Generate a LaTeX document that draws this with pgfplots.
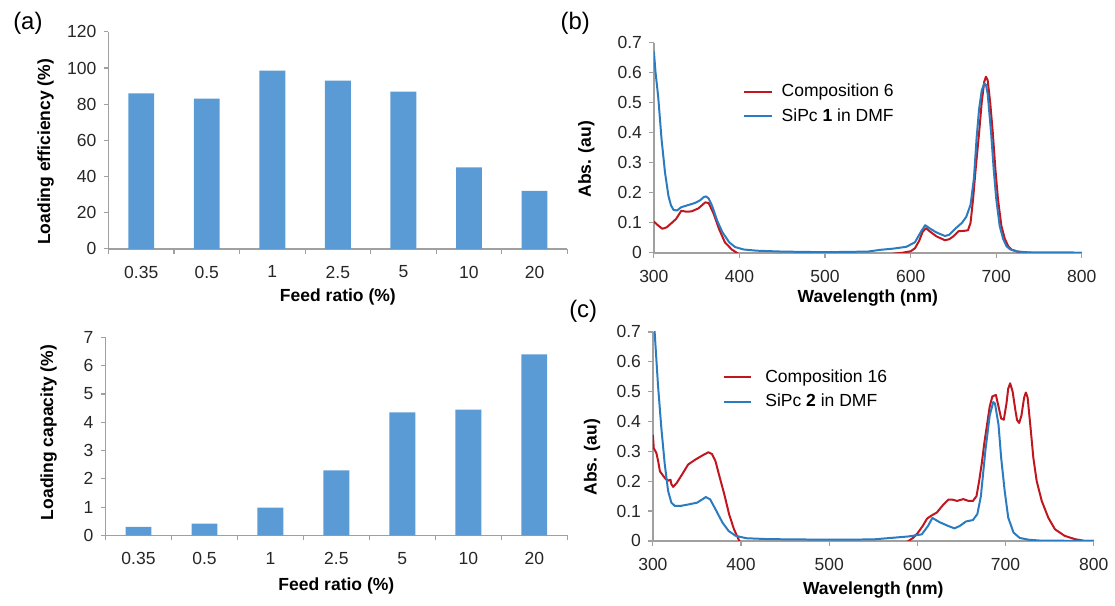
\documentclass[border=0pt]{standalone}
\usepackage{pgfplots}
\pgfplotsset{compat=1.18}
\usepackage{fontspec}
\setmainfont{Liberation Sans}
\definecolor{barblue}{HTML}{5B9BD5}
\definecolor{cred}{HTML}{C0161E}
\definecolor{cblue}{HTML}{2A7BBF}
\definecolor{axgray}{HTML}{A0A0A0}
\newcommand{\tf}{\fontsize{8.8}{10.5}\selectfont}
\pgfplotsset{
 common/.style={
  scale only axis,
  axis x line*=bottom, axis y line*=left,
  axis line style={axgray, line width=0.75pt},
  tick style={axgray, line width=0.6pt},
  tick align=outside,
  major tick length=2.5pt,
  tick label style={font=\tf, text=black!85},
  xticklabel style={yshift=-2.5pt},
  label style={font=\tf\bfseries},
  /pgf/number format/assume math mode=true,
 },
 bars/.style={common, ybar, bar width=13pt, xmin=-0.5, xmax=6.5, ymin=0,
   xtick={-0.5,0.5,1.5,2.5,3.5,4.5,5.5,6.5}, x tick label as interval,
   xticklabels={0.35,0.5,1,2.5,5,10,20},
   xlabel={Feed ratio (\%)}},
 spec/.style={common, xmin=300, xmax=800, ymin=0, ymax=0.7,
   xtick={300,400,500,600,700,800},
   ytick={0,0.1,0.2,0.3,0.4,0.5,0.6,0.7},
   yticklabel style={/pgf/number format/fixed,/pgf/number format/precision=1},
   xlabel={Wavelength (nm)}, ylabel={Abs. (au)},
   legend cell align=left,
   legend image code/.code={\draw[##1] (0pt,0pt) -- (14pt,0pt);},
 },
}
\begin{document}
\begin{tikzpicture}[x=1pt,y=1pt]
\path (0,0) rectangle (557.5,299);
% (a) top
\begin{axis}[bars, at={(54.5pt,174pt)}, anchor=south west, width=230.5pt, height=109pt,
  ymax=120, ytick={0,20,40,60,80,100,120},
  ylabel={Loading efficiency (\%)},
  ylabel style={at={(axis description cs:-0.137,0.447)}, anchor=center},
  xlabel style={at={(axis description cs:0.5,-0.22)}, anchor=center}]
\addplot[fill=barblue, draw=none] coordinates {(0,86) (1,83) (2,98.5) (3,93) (4,87) (5,45) (6,32)};
\end{axis}
% (a) bottom
\begin{axis}[bars, at={(53pt,30pt)}, anchor=south west, width=232pt, height=99.5pt,
  ymax=7, ytick={0,1,2,3,4,5,6,7},
  ylabel={Loading capacity (\%)},
  ylabel style={at={(axis description cs:-0.123,0.52)}, anchor=center},
  xlabel style={at={(axis description cs:0.5,-0.255)}, anchor=center}]
\addplot[fill=barblue, draw=none] coordinates {(0,0.3) (1,0.42) (2,0.98) (3,2.3) (4,4.35) (5,4.45) (6,6.4)};
\end{axis}
% (b)
\begin{axis}[spec, at={(328.5pt,172pt)}, anchor=south west, width=215pt, height=105.5pt,
  ylabel style={at={(axis description cs:-0.158,0.445)}, anchor=center},
  xlabel style={at={(axis description cs:0.5,-0.216)}, anchor=center},
  legend style={draw=none, fill=none, inner sep=0pt, outer sep=0pt,
    at={(axis description cs:0.208,0.827)}, anchor=north west, row sep=0pt,
    nodes={inner sep=0pt, minimum height=12.5pt, font=\tf},
    /tikz/every odd column/.append style={column sep=4.5pt}}]
\addplot[cred, line width=1pt, line join=round] coordinates {
(300,0.104) (305,0.091) (310,0.080) (315,0.085) (321,0.10) (326,0.113) (332,0.14) (338,0.137)
(344,0.138) (352,0.148) (360,0.168) (364,0.166) (370,0.129) (376,0.08) (383,0.035) (391,0.011)
(397,0.0) (402,-0.01) (570,-0.01) (580,-0.003) (590,0.0) (600,0.005) (605,0.015) (610,0.04)
(614,0.07) (618,0.082) (623,0.07) (630,0.055) (640,0.042) (645,0.045) (650,0.055) (656,0.072)
(662,0.073) (667,0.075) (670,0.1) (673,0.18) (676,0.28) (680,0.40) (683,0.50) (686,0.57)
(688,0.587) (690,0.575) (693,0.50) (696,0.40) (699,0.28) (702,0.18) (706,0.09) (710,0.047)
(714,0.022) (718,0.01) (725,0.004) (735,0.001) (800,0.0)};
\addlegendentry{Composition 6}
\addplot[cblue, line width=1pt, line join=round] coordinates {
(300,0.671) (302,0.60) (305,0.522) (309,0.378) (313,0.268) (317,0.19) (320,0.158) (323,0.143)
(327,0.141) (332,0.152) (340,0.159) (348,0.166) (354,0.175) (358,0.185) (361,0.188) (364,0.181)
(368,0.157) (374,0.107) (380,0.069) (388,0.035) (395,0.019) (405,0.011) (420,0.007) (450,0.004)
(500,0.002) (550,0.004) (565,0.01) (580,0.014) (595,0.02) (605,0.035) (612,0.07) (617,0.092)
(622,0.082) (630,0.068) (640,0.056) (645,0.06) (652,0.08) (660,0.1) (665,0.12) (670,0.16)
(674,0.25) (677,0.38) (680,0.48) (683,0.54) (686,0.565) (688,0.56) (690,0.53) (694,0.40)
(697,0.28) (700,0.18) (704,0.09) (708,0.047) (712,0.022) (716,0.012) (725,0.004) (740,0.001) (800,0.0)};
\addlegendentry{SiPc \textbf{1} in DMF}
\end{axis}
% (c)
\begin{axis}[spec, at={(328pt,27.25pt)}, anchor=south west, width=221.5pt, height=105pt,
  ylabel style={at={(axis description cs:-0.138,0.40)}, anchor=center},
  xlabel style={at={(axis description cs:0.5,-0.236)}, anchor=center},
  legend style={draw=none, fill=none, inner sep=0pt, outer sep=0pt,
    at={(axis description cs:0.158,0.843)}, anchor=north west, row sep=0pt,
    nodes={inner sep=0pt, minimum height=12.5pt, font=\tf},
    /tikz/every odd column/.append style={column sep=6.5pt}}]
\addplot[cred, line width=1pt, line join=round] coordinates {
(300,0.356) (301,0.311) (304,0.294) (306,0.267) (308,0.233) (312,0.217) (315,0.206) (318,0.202)
(320,0.205) (321,0.19) (323,0.181) (327,0.194) (333,0.222) (340,0.256) (348,0.272) (356,0.286)
(363,0.297) (367,0.291) (371,0.267) (375,0.222) (381,0.156) (386.5,0.089) (392,0.039) (398,0.0)
(401,-0.01) (585,-0.01) (590,0.0) (595,0.01) (600,0.025) (606,0.05) (611,0.075) (616,0.085)
(622,0.095) (629,0.12) (635,0.138) (640,0.138) (645,0.134) (652,0.14) (658,0.134) (663,0.134)
(667,0.15) (670,0.2) (673,0.26) (676,0.33) (679,0.39) (682,0.45) (685,0.484) (689,0.489)
(692,0.45) (695,0.41) (698,0.406) (701,0.46) (703,0.51) (705.2,0.528) (708,0.5) (711,0.44)
(713,0.405) (715.4,0.395) (718,0.42) (721,0.48) (723,0.497) (725,0.48) (728,0.389) (731.5,0.278)
(735.3,0.2) (741,0.134) (748.4,0.078) (756,0.039) (767,0.017) (778.5,0.006) (790,0.0) (800,0.0)};
\addlegendentry{Composition 16}
\addplot[cblue, line width=1pt, line join=round] coordinates {
(300,0.78) (302,0.70) (305.8,0.522) (309.6,0.378) (313.5,0.256) (317.3,0.167) (321,0.128) (325,0.117)
(331,0.117) (340,0.122) (350,0.128) (356,0.139) (360,0.147) (365,0.139) (371,0.106) (379,0.061)
(386,0.033) (394,0.017) (406,0.009) (430,0.006) (500,0.004) (550,0.005) (570,0.01) (590,0.015)
(605,0.022) (612,0.05) (617,0.077) (625,0.063) (635,0.05) (642,0.042) (648,0.05) (655,0.065)
(663,0.07) (668,0.09) (672,0.15) (677,0.30) (682,0.42) (686,0.465) (688,0.46) (692,0.389)
(695,0.278) (699,0.167) (703,0.078) (709,0.028) (716,0.01) (726,0.004) (740,0.001) (800,0.0)};
\addlegendentry{SiPc \textbf{2} in DMF}
\end{axis}
\node[font=\fontsize{12}{14}\selectfont] at (14,287.5) {(a)};
\node[font=\fontsize{12}{14}\selectfont] at (289,287.5) {(b)};
\node[font=\fontsize{12}{14}\selectfont] at (293,142.5) {(c)};
\end{tikzpicture}
\end{document}
